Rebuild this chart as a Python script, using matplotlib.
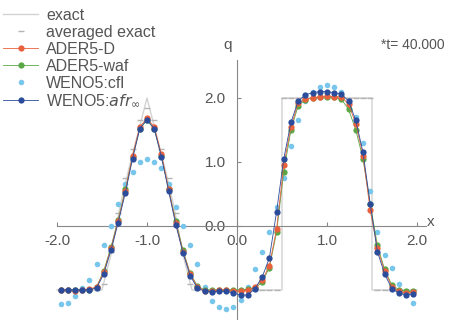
import matplotlib.pyplot as plt

# cell centres (50 cells on [-2, 2])
xc = [-1.96, -1.88, -1.80, -1.72, -1.64, -1.56, -1.48, -1.40, -1.32, -1.24,
      -1.16, -1.08, -1.00, -0.92, -0.84, -0.76, -0.68, -0.60, -0.52, -0.44,
      -0.36, -0.28, -0.20, -0.12, -0.04, 0.04, 0.12, 0.20, 0.28, 0.36,
      0.44, 0.52, 0.60, 0.68, 0.76, 0.84, 0.92, 1.00, 1.08, 1.16,
      1.24, 1.32, 1.40, 1.48, 1.56, 1.64, 1.72, 1.80, 1.88, 1.96]

# exact solution
x_exact = [-2.0, -1.5, -1.4, -1.3, -1.2, -1.1, -1.0, -0.9, -0.8, -0.7, -0.6, -0.5,
           0.5, 0.5, 1.5, 1.5, 2.0]
q_exact = [-1.0, -1.0, -0.45, 0.3, 0.9, 1.45, 2.0, 1.45, 0.9, 0.3, -0.45, -1.0,
           -1.0, 2.0, 2.0, -1.0, -1.0]

q_avg = [-1.0, -1.0, -1.0, -1.0, -1.0, -1.0, -0.9, -0.4, 0.2, 0.75,
         1.2, 1.65, 1.85, 1.65, 1.2, 0.75, 0.2, -0.4, -0.9, -1.0,
         -1.0, -1.0, -1.0, -1.0, -1.0, -1.0, -1.0, -1.0, -1.0, -1.0,
         -1.0, 2.0, 2.0, 2.0, 2.0, 2.0, 2.0, 2.0, 2.0, 2.0,
         2.0, 2.0, 2.0, 2.0, -1.0, -1.0, -1.0, -1.0, -1.0, -1.0]

q_ader_d = [-1.00, -1.00, -1.01, -1.00, -0.99, -0.95, -0.72, -0.35, 0.08, 0.55,
            1.10, 1.55, 1.68, 1.55, 1.12, 0.58, 0.05, -0.40, -0.75, -0.95,
            -1.01, -1.02, -1.00, -1.00, -1.01, -1.02, -1.00, -0.95, -0.85, -0.62,
            -0.05, 0.95, 1.55, 1.92, 1.98, 2.00, 2.02, 2.03, 2.02, 2.02,
            1.90, 1.60, 1.10, 0.25, -0.35, -0.70, -0.95, -1.02, -1.05, -1.03]

q_ader_waf = [-1.00, -1.00, -1.00, -1.00, -1.00, -0.96, -0.70, -0.33, 0.10, 0.57,
              1.08, 1.52, 1.65, 1.52, 1.10, 0.57, 0.08, -0.38, -0.74, -0.94,
              -1.00, -1.00, -1.00, -1.00, -1.00, -1.00, -0.99, -0.97, -0.88, -0.65,
              -0.10, 0.85, 1.50, 1.88, 1.97, 2.00, 2.01, 2.02, 2.01, 1.98,
              1.82, 1.50, 1.05, 0.35, -0.30, -0.68, -0.92, -1.00, -1.02, -1.02]

q_weno_cfl = [-1.22, -1.20, -1.10, -0.97, -0.85, -0.60, -0.30, 0.00, 0.35, 0.65,
              0.85, 1.00, 1.05, 1.00, 0.90, 0.65, 0.30, 0.00, -0.30, -0.60,
              -0.95, -1.18, -1.27, -1.30, -1.27, -1.15, -0.95, -0.68, -0.40, -0.10,
              0.30, 0.75, 1.25, 1.65, 1.95, 2.10, 2.17, 2.20, 2.17, 2.10,
              1.95, 1.70, 1.30, 0.55, -0.10, -0.45, -0.65, -0.90, -1.05, -1.20]

q_weno_afr = [-1.00, -1.00, -1.00, -1.00, -1.00, -0.97, -0.75, -0.38, 0.05, 0.52,
              1.05, 1.52, 1.66, 1.52, 1.08, 0.55, 0.02, -0.42, -0.78, -0.97,
              -1.02, -1.03, -1.02, -1.02, -1.05, -1.08, -1.08, -0.98, -0.80, -0.50,
              0.22, 1.05, 1.62, 1.95, 2.05, 2.08, 2.10, 2.10, 2.08, 2.06,
              1.95, 1.65, 1.15, 0.35, -0.40, -0.75, -0.98, -1.05, -1.08, -1.06]

grey = '#555555'
plt.rcParams['font.family'] = ['Liberation Sans', 'DejaVu Sans']

fig = plt.figure(figsize=(4.51, 3.2), dpi=100)
ax = fig.add_axes([0, 0, 1, 1])

ax.plot(x_exact, q_exact, color='#d2d2d2', lw=1.0, label='exact', zorder=1)
ax.plot(xc, q_avg, ls='none', marker='_', ms=5, mew=1.0, color='#b4b4b4',
        label='averaged exact', zorder=2)
ax.plot(xc, q_ader_d, color='#e8603c', lw=0.6, marker='o', ms=4.5, mew=0,
        label='ADER5-D', zorder=5)
ax.plot(xc, q_ader_waf, color='#5aa845', lw=0.6, marker='o', ms=4.5, mew=0,
        label='ADER5-waf', zorder=4)
ax.plot(xc, q_weno_cfl, color='#78c6ec', lw=0.0, marker='o', ms=4, mew=0,
        label='WENO5:cfl', zorder=3)
ax.plot(xc, q_weno_afr, color='#2b4c9b', lw=0.6, marker='o', ms=4.5, mew=0,
        label='WENO5:$afr_\\infty$', zorder=6)

ax.set_xlim(-2.633, 2.378)
ax.set_ylim(-1.47, 3.53)

for s in ['top', 'right']:
    ax.spines[s].set_visible(False)
ax.spines['left'].set_position(('data', 0))
ax.spines['bottom'].set_position(('data', 0))
ax.spines['left'].set_bounds(-1.47, 2.6)
ax.spines['bottom'].set_bounds(-2.0, 2.1)
ax.spines['left'].set_color('#888888')
ax.spines['bottom'].set_color('#888888')

ax.set_xticks([-2, -1, 0, 1, 2])
ax.set_xticklabels(['-2.0', '-1.0', '0.0', '1.0', '2.0'])
ax.set_yticks([0, 1, 2])
ax.set_yticklabels(['0.0', '1.0', '2.0'])
ax.tick_params(axis='x', direction='in', length=3, pad=6, colors='#888888',
               labelcolor=grey, labelsize=11)
ax.tick_params(axis='y', direction='in', length=3, pad=8, colors='#888888',
               labelcolor=grey, labelsize=11)

ax.text(2.15, 0.06, 'x', color=grey, fontsize=11, ha='center', va='center')
ax.text(-0.10, 2.83, 'q', color=grey, fontsize=11, ha='center', va='center')
ax.text(2.31, 2.83, '*t= 40.000', color=grey, fontsize=10, ha='right', va='center')

ax.legend(loc='upper left', bbox_to_anchor=(0.0, 0.985), frameon=False,
          fontsize=11.5, labelcolor=grey, handlelength=2.2, handletextpad=0.5,
          labelspacing=0.12, borderaxespad=0.1, borderpad=0.1)

plt.savefig('out.png', dpi=100)
